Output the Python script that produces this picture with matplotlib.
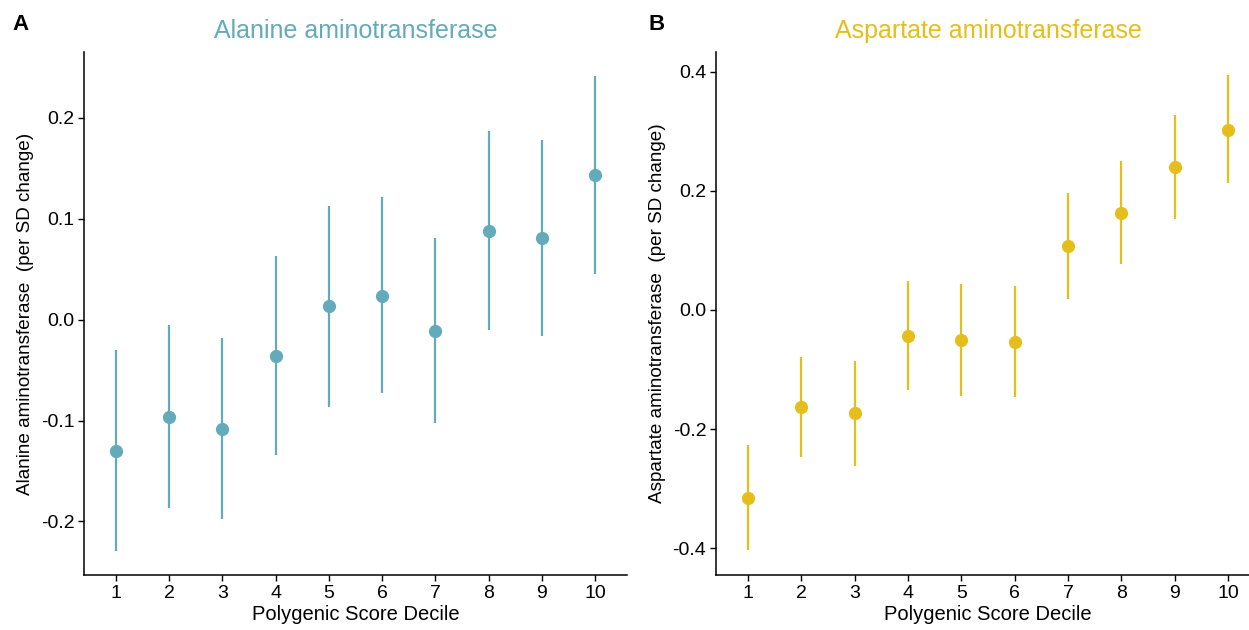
import numpy as np
import matplotlib
matplotlib.use("Agg")
import matplotlib.pyplot as plt

plt.rcParams['font.family'] = ['Liberation Sans', 'DejaVu Sans']
plt.rcParams['axes.unicode_minus'] = False

deciles = np.arange(1, 11)

# Alanine aminotransferase (panel A)
alt_est = [-0.130, -0.096, -0.108, -0.036, 0.013, 0.023, -0.011, 0.088, 0.081, 0.143]
alt_lo = [-0.229, -0.187, -0.198, -0.134, -0.087, -0.073, -0.102, -0.010, -0.016, 0.045]
alt_hi = [-0.030, -0.005, -0.018, 0.063, 0.113, 0.121, 0.081, 0.187, 0.178, 0.241]

# Aspartate aminotransferase (panel B)
ast_est = [-0.315, -0.163, -0.173, -0.043, -0.051, -0.053, 0.107, 0.163, 0.240, 0.303]
ast_lo = [-0.403, -0.247, -0.262, -0.134, -0.144, -0.146, 0.018, 0.077, 0.152, 0.213]
ast_hi = [-0.226, -0.079, -0.085, 0.048, 0.044, 0.041, 0.197, 0.250, 0.328, 0.394]

fig = plt.figure(figsize=(12.49, 6.3), dpi=100)

def panel(rect, est, lo, hi, color, title, ylabel, ylim, yticks):
    ax = fig.add_axes(rect)
    ax.vlines(deciles, lo, hi, color=color, lw=1.6)
    ax.plot(deciles, est, 'o', color=color, ms=8.5, mec=color)
    ax.set_xlim(0.4, 10.6)
    ax.set_ylim(*ylim)
    ax.set_xticks(deciles)
    ax.set_yticks(yticks)
    ax.set_yticklabels(['%.1f' % v for v in yticks])
    for s in ['top', 'right']:
        ax.spines[s].set_visible(False)
    for s in ['left', 'bottom']:
        ax.spines[s].set_linewidth(1.1)
    ax.tick_params(labelsize=14, length=4, width=1, colors='black', pad=3)
    ax.set_xlabel('Polygenic Score Decile', fontsize=14.5, labelpad=2)
    ax.set_ylabel(ylabel, fontsize=13.6, labelpad=5)
    ax.set_title(title, color=color, fontsize=18, pad=10)
    return ax

panel([0.0673, 0.0873, 0.4347, 0.830], alt_est, alt_lo, alt_hi, '#63AABB',
      'Alanine aminotransferase', 'Alanine aminotransferase  (per SD change)',
      (-0.253, 0.265), [-0.2, -0.1, 0.0, 0.1, 0.2])

panel([0.5733, 0.0873, 0.4355, 0.830], ast_est, ast_lo, ast_hi, '#E6BE1C',
      'Aspartate aminotransferase', 'Aspartate aminotransferase  (per SD change)',
      (-0.445, 0.433), [-0.4, -0.2, 0.0, 0.2, 0.4])

fig.text(12 / 1249, 1 - 25 / 630, 'A', fontsize=16, fontweight='bold', va='center', ha='left')
fig.text(649 / 1249, 1 - 25 / 630, 'B', fontsize=16, fontweight='bold', va='center', ha='left')

fig.savefig('out.png', dpi=100)
